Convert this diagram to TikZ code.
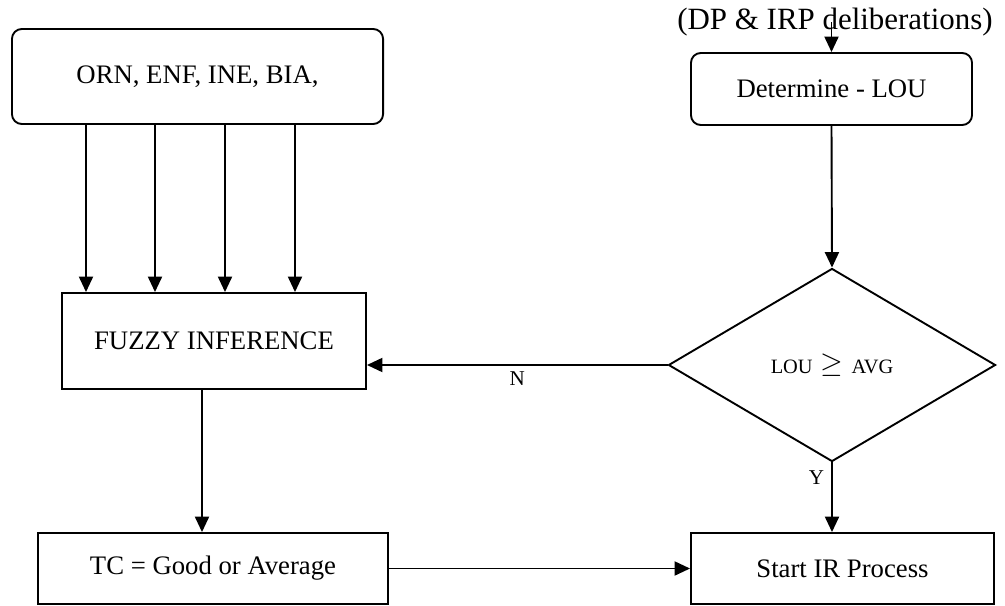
\documentclass[tikz,border=0pt]{standalone}
\usepackage{fontspec}
\setmainfont{Liberation Serif}
\usepackage{amsmath,amssymb}
\usetikzlibrary{arrows.meta,positioning,calc,shapes.geometric}
\definecolor{cInk}{HTML}{000000}
\tikzset{
  >={Triangle[length=11pt,width=10pt]},
  box/.style   ={draw=cInk,line width=1.35pt,align=center,inner sep=4pt,
                 font=\fontsize{19}{23}\selectfont},
  rbox/.style  ={box,rounded corners=7pt},
  dec/.style   ={box,diamond,inner sep=0pt,font=\fontsize{14.5}{17}\selectfont},
  ar/.style    ={->,line width=1.35pt,cInk},
  lbl/.style   ={font=\fontsize{15}{18}\selectfont,inner sep=1pt},
}

\begin{document}
\begin{tikzpicture}[x=0.025cm,y=-0.025cm]
\useasboundingbox (0,0) rectangle (1005,605);
% left column
\node[rbox,minimum width=9.275cm,minimum height=2.375cm] (src) at (197.5,76.5) {ORN, ENF, INE, BIA,};
\node[box,minimum width=7.6cm,minimum height=2.4cm] (fuzzy) at (214,341) {FUZZY INFERENCE};
\node[box,minimum width=8.75cm,minimum height=1.775cm] (tc) at (213,568.5) {TC = Good or Average};
% right column
\node[font=\fontsize{22}{26}\selectfont,inner sep=0pt] (dp) at (835,22) {(DP \& IRP deliberations)};
\node[rbox,minimum width=7.025cm,minimum height=1.8cm] (det) at (831.5,89) {Determine - LOU};
\node[dec,minimum width=8.175cm,minimum height=4.825cm] (lou) at (832,365)
  {LOU\hspace{0.4em}\raisebox{1pt}{\fontsize{21}{21}\selectfont$\geq$}\hspace{0.4em}AVG};
\node[box,minimum width=7.575cm,minimum height=1.775cm] (start) at (842.5,568.5) {Start IR Process};
% inputs into the inference
\foreach \x in {86,155,225,295}
  \draw[ar] (src.south -| \x,0) -- (fuzzy.north -| \x,0);
\draw[ar] ([xshift=-0.3cm]fuzzy.south) -- ([xshift=-0.3cm]fuzzy.south |- tc.north);
\draw[ar] (tc) -- (start);
% decision path
\draw[ar] (det.north |- dp.center) -- (det.north);
\draw[ar] (det.south) -- (lou.north);
\draw[ar] (lou.west) -- (lou.west -| fuzzy.east)
   node[lbl,midway,below=3pt]{N};
\draw[ar] (lou.south) -- (lou.south |- start.north)
   node[lbl,pos=0.22,left=4pt]{Y};
\end{tikzpicture}
\end{document}
